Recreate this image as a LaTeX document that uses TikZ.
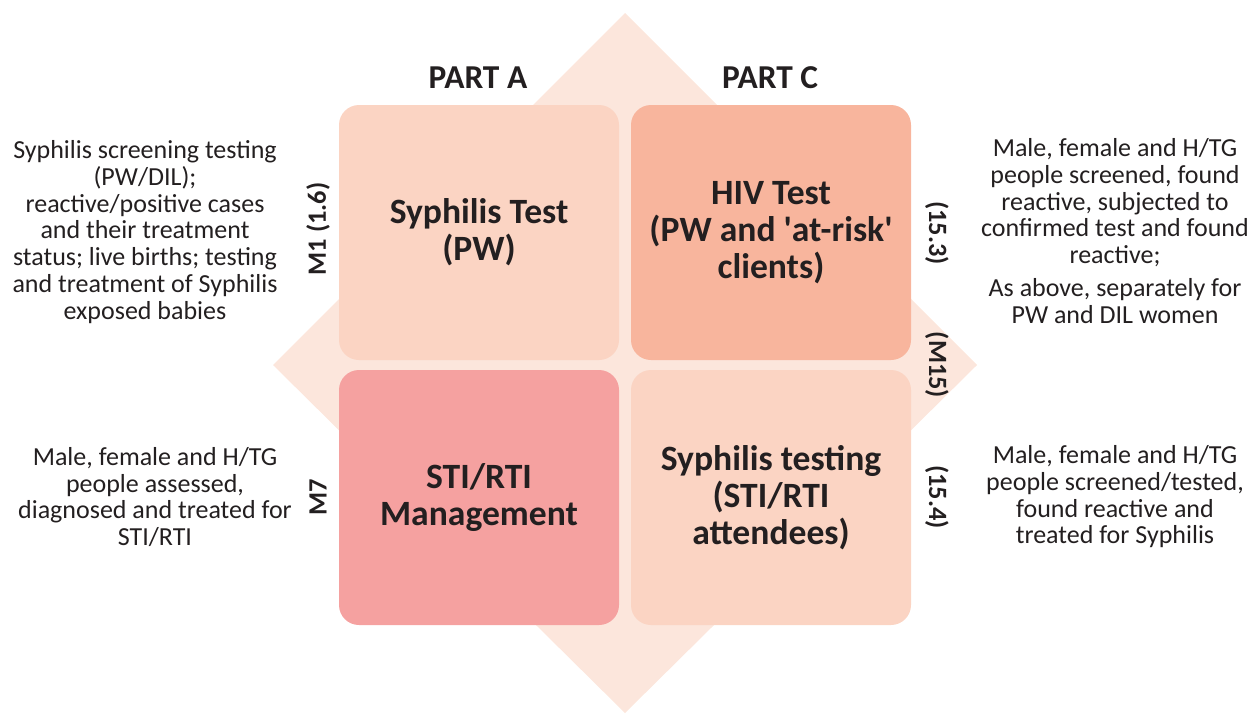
\documentclass[tikz,border=0pt]{standalone}
\usepackage{fontspec}
\setmainfont{Carlito}
\usetikzlibrary{positioning}
\definecolor{diamondfill}{RGB}{252,230,220}
\definecolor{peach}{RGB}{251,212,195}
\definecolor{salmon}{RGB}{248,181,157}
\definecolor{rosered}{RGB}{245,161,160}
\definecolor{inkgray}{RGB}{35,31,32}

\begin{document}
\begin{tikzpicture}[x=0.5pt, y=-0.5pt,
            quadbox/.style={rectangle, rounded corners=10pt, minimum width=140pt, minimum height=127.5pt, text=inkgray, font=\fontsize{17.8}{18.5}\selectfont\bfseries, align=center, inner sep=0pt},
            parthead/.style={text=inkgray, font=\fontsize{16.7}{18}\selectfont\bfseries},
            sidenote/.style={text=inkgray, font=\fontsize{13}{13.35}\selectfont, align=center, inner sep=0pt},
            codetag/.style={text=inkgray, font=\fontsize{13.2}{15}\selectfont\bfseries, inner sep=0pt}]
            \useasboundingbox (0,0) rectangle (1253,713);
            % background diamond
            \fill [diamondfill] (625,13) -- (977,365) -- (625,713) -- (273,365) -- cycle;
            % the four quadrants
            \node [quadbox, fill=peach] (syph) at (479,232.5) {Syphilis Test\\(PW)};
            \node [quadbox, fill=salmon] (hiv) at (771,232.5) {HIV Test\\(PW and \textquotesingle at-risk\textquotesingle\\clients)};
            \node [quadbox, fill=rosered] (sti) at (479,497.5) {STI/RTI\\Management};
            \node [quadbox, fill=peach] (syphsti) at (771,497.5) {Syphilis testing\\(STI/RTI\\attendees)};
            % part headings
            \node [parthead] (parta) at (478,78) {PART A};
            \node [parthead] (partc) at (770,78) {PART C};
            % indicator codes
            \node [codetag, rotate=90] (m1) at (318,229) {M1 (1.6)};
            \node [codetag, rotate=90] (m7) at (318,497) {M7};
            \node [codetag, rotate=-90] (c153) at (937,233) {(15.3)};
            \node [codetag, rotate=-90] (m15) at (937,365) {(M15)};
            \node [codetag, rotate=-90] (c154) at (937,497) {(15.4)};
            % descriptions
            \node [sidenote] (noteA) at (145,232) {Syphilis screening testing\\(PW/DIL);\\reactive/positive cases\\and their treatment\\status; live births; testing\\and treatment of Syphilis\\exposed babies};
            \node [sidenote] (noteB) at (155,497) {Male, female and H/TG\\people assessed,\\diagnosed and treated for\\STI/RTI};
            \node [sidenote] (noteC) at (1115,231) {Male, female and H/TG\\people screened, found\\reactive, subjected to\\confirmed test and found\\reactive;\\[3pt]As above, separately for\\PW and DIL women};
            \node [sidenote] (noteD) at (1115,497) {Male, female and H/TG\\people screened/tested,\\found reactive and\\treated for Syphilis};
        \end{tikzpicture}
\end{document}
